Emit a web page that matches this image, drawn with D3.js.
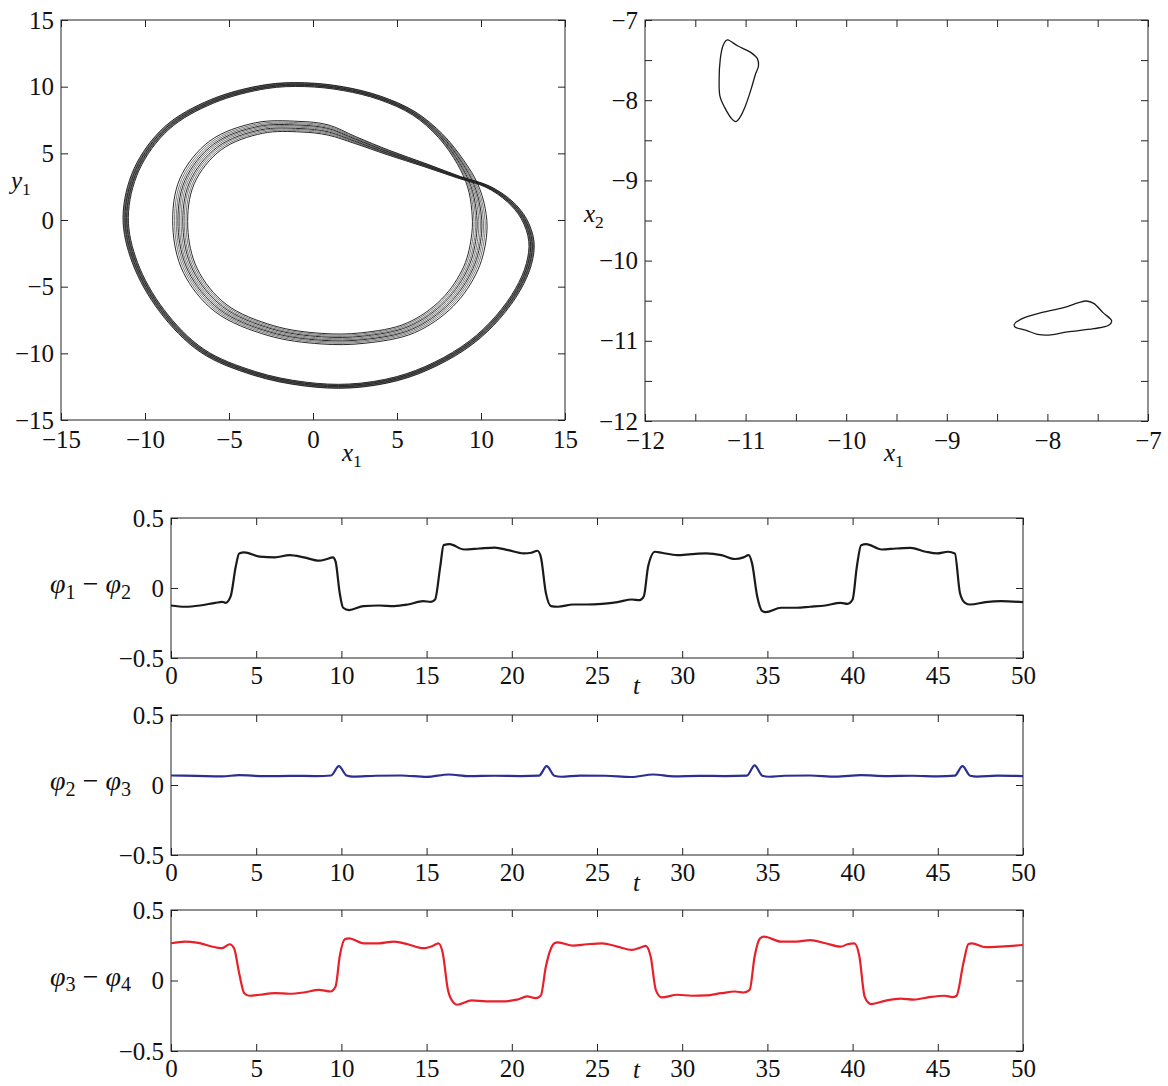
<!DOCTYPE html>
<html><head><meta charset="utf-8">
<script src="https://cdn.jsdelivr.net/npm/d3@7"></script>
<style>
body{margin:0;background:#fff}
text{font-family:"Liberation Serif","DejaVu Serif",serif;fill:#111}
</style></head>
<body><svg id="c" width="1168" height="1086"></svg>
<script>
// ---------------- DATA ----------------
// Attractor (x1,y1): one closed double loop; band = relative half-width of the strand bundle
const attractorX = [0.9,2.5,4.5,6.7,8.7,10.4,11.7,12.55,13.0,12.85,12.2,11.0,9.4,7.3,5.0,2.2,-0.5,-3.5,-6.6,-9.0,-10.6,-11.15,-10.5,-8.7,-6.0,-2.8,-0.5,1.8,4.0,6.0,7.6,8.8,9.5,9.85,9.9,9.4,8.0,5.8,3.0,0.5,-2.5,-5.5,-7.3,-7.9,-7.5,-5.8,-3.2,-0.8];
const attractorY = [6.75,6.0,5.05,4.1,3.2,2.5,1.4,0.1,-1.6,-3.3,-5.2,-7.3,-9.2,-10.8,-11.9,-12.45,-12.3,-11.5,-9.8,-6.8,-3.2,0.2,3.8,6.9,8.9,10.0,10.15,9.85,9.15,8.0,6.3,4.3,2.6,0.8,-1.0,-3.6,-6.2,-8.1,-8.85,-8.9,-8.3,-6.6,-3.8,-0.5,2.9,5.6,6.9,7.0];
const attractorBand = [0.05,0.035,0.025,0.018,0.012,0.012,0.013,0.013,0.013,0.013,0.013,0.013,0.013,0.013,0.013,0.013,0.013,0.013,0.013,0.013,0.013,0.013,0.013,0.013,0.013,0.013,0.013,0.013,0.013,0.014,0.018,0.025,0.035,0.045,0.05,0.05,0.05,0.05,0.05,0.05,0.05,0.05,0.05,0.05,0.05,0.05,0.05,0.05];
const attractorCenter = [1.0, -1.0];
const strandOffsets = [-1,-0.78,-0.55,-0.35,-0.12,0.1,0.3,0.52,0.75,1];

// Section (x1,x2): two small closed loops
const loopAX = [-11.177,-11.077,-10.946,-10.883,-10.872,-10.902,-10.946,-11.002,-11.058,-11.095,-11.133,-11.207,-11.255,-11.263,-11.252,-11.226,-11.196];
const loopAY = [-7.249,-7.324,-7.407,-7.482,-7.574,-7.677,-7.865,-8.072,-8.218,-8.268,-8.239,-8.093,-7.948,-7.740,-7.490,-7.324,-7.258];
const loopBX = [-8.329,-8.266,-8.061,-7.838,-7.689,-7.614,-7.540,-7.447,-7.361,-7.391,-7.540,-7.800,-7.987,-8.098,-8.210,-8.322];
const loopBY = [-10.795,-10.732,-10.649,-10.587,-10.524,-10.504,-10.533,-10.649,-10.753,-10.807,-10.849,-10.890,-10.928,-10.919,-10.870,-10.828];

// Phase differences vs t  ([t, value])
const phi12 = [[0,-0.125],[0.83,-0.134],[1.7,-0.125],[2.6,-0.106],[3.0,-0.099],[3.2,-0.106],[3.5,-0.06],[3.8,0.153],[4.0,0.247],[4.3,0.254],[5.2,0.224],[6.1,0.219],[6.95,0.235],[7.8,0.219],[8.7,0.195],[9.1,0.205],[9.5,0.219],[9.66,0.188],[9.9,-0.035],[10.1,-0.141],[10.45,-0.158],[11.3,-0.129],[12.2,-0.125],[13.1,-0.129],[13.9,-0.118],[14.8,-0.094],[15.25,-0.099],[15.5,-0.082],[15.8,0.153],[16.0,0.306],[16.35,0.313],[17.2,0.275],[18.1,0.282],[19.0,0.289],[19.8,0.27],[20.7,0.247],[21.15,0.252],[21.5,0.266],[21.7,0.224],[22.0,-0.035],[22.3,-0.129],[22.7,-0.134],[23.6,-0.118],[24.4,-0.118],[25.3,-0.113],[26.2,-0.101],[27.05,-0.082],[27.5,-0.087],[27.75,-0.059],[28.0,0.153],[28.4,0.259],[28.8,0.252],[29.7,0.235],[30.55,0.242],[31.4,0.247],[32.3,0.235],[33.1,0.207],[33.6,0.219],[33.9,0.235],[34.1,0.176],[34.4,-0.059],[34.7,-0.165],[34.9,-0.172],[35.8,-0.141],[36.7,-0.141],[37.5,-0.134],[38.4,-0.125],[39.3,-0.106],[39.7,-0.113],[40.0,-0.082],[40.25,0.153],[40.5,0.306],[40.8,0.313],[41.7,0.275],[42.55,0.282],[43.4,0.287],[44.3,0.259],[44.95,0.247],[45.6,0.259],[46.0,0.247],[46.3,-0.035],[46.6,-0.106],[46.9,-0.118],[47.8,-0.101],[48.7,-0.094],[50,-0.101]];
const phi23 = [[0,0.068],[1.5,0.065],[3,0.062],[4,0.07],[5.5,0.063],[7,0.065],[8.5,0.064],[9.4,0.068],[9.85,0.135],[10.3,0.068],[10.7,0.06],[12,0.066],[13.5,0.068],[15,0.058],[16.3,0.075],[17.5,0.063],[19,0.066],[20.5,0.064],[21.6,0.067],[22.05,0.135],[22.5,0.066],[22.9,0.059],[24,0.067],[25.5,0.066],[27,0.057],[28.3,0.075],[29.5,0.062],[31,0.065],[32.5,0.064],[33.8,0.067],[34.25,0.14],[34.7,0.066],[35.1,0.059],[36,0.066],[37.5,0.068],[39,0.06],[40.5,0.07],[42,0.064],[43.5,0.066],[45,0.062],[46.0,0.067],[46.45,0.135],[46.9,0.066],[47.3,0.06],[48.5,0.067],[50,0.064]];
const phi34 = [[0,0.264],[0.83,0.276],[1.5,0.269],[2.6,0.236],[3.0,0.229],[3.45,0.257],[3.7,0.229],[4.0,0.052],[4.3,-0.09],[4.6,-0.108],[5.2,-0.101],[6.1,-0.09],[6.95,-0.094],[7.8,-0.085],[8.7,-0.066],[9.35,-0.078],[9.66,-0.042],[9.9,0.17],[10.2,0.292],[10.45,0.299],[11.3,0.264],[12.2,0.264],[13.1,0.276],[13.9,0.257],[14.8,0.229],[15.35,0.245],[15.7,0.264],[15.95,0.193],[16.25,-0.066],[16.6,-0.16],[16.8,-0.172],[17.65,-0.141],[18.5,-0.148],[19.4,-0.148],[20.3,-0.136],[20.9,-0.113],[21.4,-0.125],[21.7,-0.108],[22.0,0.099],[22.5,0.264],[22.7,0.271],[23.6,0.247],[24.4,0.257],[25.3,0.264],[26.2,0.240],[27.05,0.217],[27.6,0.236],[27.85,0.245],[28.15,0.17],[28.45,-0.066],[28.8,-0.12],[29.7,-0.101],[30.55,-0.108],[31.4,-0.106],[32.3,-0.09],[33.1,-0.078],[33.6,-0.085],[33.96,-0.066],[34.25,0.17],[34.57,0.299],[34.8,0.311],[35.8,0.276],[36.7,0.276],[37.5,0.287],[38.4,0.264],[39.3,0.240],[39.7,0.257],[40.1,0.264],[40.4,0.17],[40.7,-0.113],[40.95,-0.16],[41.1,-0.167],[41.9,-0.144],[42.8,-0.129],[43.6,-0.136],[44.5,-0.118],[45.4,-0.108],[45.85,-0.118],[46.1,-0.108],[46.5,0.122],[46.8,0.259],[47.0,0.264],[47.8,0.236],[48.7,0.24],[50,0.252]];

const ticksTL = [-15,-10,-5,0,5,10,15];
const ticksTRmajor = [-12,-11,-10,-9,-8,-7];
const ticksTRminor = [-12,-11.5,-11,-10.5,-10,-9.5,-9,-8.5,-8,-7.5,-7];
const ticksT = [0,5,10,15,20,25,30,35,40,45,50];
const ticksPhi = [-0.5,0,0.5];

// ---------------- DRAW ----------------
const svg = d3.select('#c');
const FONT = '"Liberation Serif","DejaVu Serif",serif';

function frame(cfg){
  const x = d3.scaleLinear().domain(cfg.xd).range([cfg.l, cfg.r]);
  const y = d3.scaleLinear().domain(cfg.yd).range([cfg.b, cfg.t]);
  const g = svg.append('g');
  const tk = 7;
  const clean = s => { s.select('.domain').remove(); s.selectAll('line').attr('stroke','#222'); };
  g.append('g').attr('transform',`translate(0,${cfg.b})`).call(d3.axisBottom(x).tickValues(cfg.xt).tickSize(-tk).tickFormat('')).call(clean);
  g.append('g').attr('transform',`translate(0,${cfg.t})`).call(d3.axisTop(x).tickValues(cfg.xt).tickSize(-tk).tickFormat('')).call(clean);
  g.append('g').attr('transform',`translate(${cfg.l},0)`).call(d3.axisLeft(y).tickValues(cfg.yt).tickSize(-tk).tickFormat('')).call(clean);
  g.append('g').attr('transform',`translate(${cfg.r},0)`).call(d3.axisRight(y).tickValues(cfg.yt).tickSize(-tk).tickFormat('')).call(clean);
  const xl = g.append('g').attr('transform',`translate(0,${cfg.b})`).call(d3.axisBottom(x).tickValues(cfg.xlv).tickSize(0).tickPadding(cfg.xpad).tickFormat(cfg.xfmt));
  xl.select('.domain').remove();
  const yl = g.append('g').attr('transform',`translate(${cfg.l},0)`).call(d3.axisLeft(y).tickValues(cfg.ylv).tickSize(0).tickPadding(cfg.ypad).tickFormat(cfg.yfmt));
  yl.select('.domain').remove();
  [xl,yl].forEach(a=>{ a.attr('font-family',FONT).attr('font-size',cfg.fs); a.selectAll('text').attr('fill','#111').style('font-family',FONT).style('font-size',cfg.fs+'px'); });
  g.append('rect').attr('x',cfg.l).attr('y',cfg.t).attr('width',cfg.r-cfg.l).attr('height',cfg.b-cfg.t)
    .attr('fill','none').attr('stroke','#222').attr('stroke-width',1);
  return {x,y,g};
}

function subLabel(x, y, main, sub, size){
  const t = svg.append('text').attr('x',x).attr('y',y).attr('font-size',size).style('font-family',FONT);
  t.append('tspan').attr('font-style','italic').text(main);
  t.append('tspan').attr('font-size',size*0.7).attr('dy',size*0.22).text(sub);
  return t;
}
function phiLabel(xr, y, a, b, size){
  const t = svg.append('text').attr('x',xr).attr('y',y).attr('font-size',size).style('font-family',FONT).attr('text-anchor','end');
  t.append('tspan').attr('font-style','italic').text('φ');
  t.append('tspan').attr('font-size',size*0.72).attr('dy',size*0.2).text(a);
  t.append('tspan').attr('dy',-size*0.2).text(' − ');
  t.append('tspan').attr('font-style','italic').text('φ');
  t.append('tspan').attr('font-size',size*0.72).attr('dy',size*0.2).text(b);
}

const intFmt = d => d3.format('d')(d);

// Top-left: attractor
const tl = frame({l:61,r:565,t:20,b:420,xd:[-15,15],yd:[-15,15],xt:ticksTL,yt:ticksTL,xlv:ticksTL,ylv:ticksTL,xfmt:intFmt,yfmt:intFmt,fs:25,xpad:10,ypad:7});
const attractorPts = attractorX.map((v,i)=>({x:v,y:attractorY[i],w:attractorBand[i]}));
const loopLine = d3.line().curve(d3.curveCatmullRomClosed.alpha(0.5));
strandOffsets.forEach((o,k)=>{
  const pts = attractorPts.map(p=>{
    const s = 1 + o*p.w;
    return [tl.x(attractorCenter[0] + (p.x-attractorCenter[0])*s), tl.y(attractorCenter[1] + (p.y-attractorCenter[1])*s)];
  });
  tl.g.append('path').attr('d',loopLine(pts)).attr('fill','none')
    .attr('stroke', k%3===0 ? '#111' : '#333').attr('stroke-width', k%3===0 ? 0.9 : 0.65);
});
subLabel(342, 461, 'x', '1', 25);
subLabel(11, 189, 'y', '1', 25);

// Top-right: section
const tr = frame({l:645,r:1148,t:20,b:421,xd:[-12,-7],yd:[-12,-7],xt:ticksTRminor,yt:ticksTRminor,xlv:ticksTRmajor,ylv:ticksTRmajor,xfmt:intFmt,yfmt:intFmt,fs:25,xpad:10,ypad:7});
[[loopAX,loopAY],[loopBX,loopBY]].forEach(([xs,ys])=>{
  const pts = xs.map((v,i)=>[tr.x(v), tr.y(ys[i])]);
  tr.g.append('path').attr('d',loopLine(pts)).attr('fill','none').attr('stroke','#1a1a1a').attr('stroke-width',1.3);
});
subLabel(584, 222, 'x', '2', 25);
subLabel(884, 461, 'x', '1', 25);

// Bottom: time series
const phiFmt = d => d===0 ? '0' : d3.format('.1f')(d);
const series = [
  {data:phi12, t:518, b:658, color:'#1a1a1a', a:'1', bb:'2'},
  {data:phi23, t:715, b:855, color:'#2b2f8f', a:'2', bb:'3'},
  {data:phi34, t:910, b:1051, color:'#e8202a', a:'3', bb:'4'}
];
series.forEach(s=>{
  const p = frame({l:171,r:1023,t:s.t,b:s.b,xd:[0,50],yd:[-0.5,0.5],xt:ticksT,yt:ticksPhi,xlv:ticksT,ylv:ticksPhi,xfmt:intFmt,yfmt:phiFmt,fs:25,xpad:8,ypad:7});
  const line = d3.line().x(d=>p.x(d[0])).y(d=>p.y(d[1])).curve(d3.curveMonotoneX);
  p.g.append('path').attr('d',line(s.data)).attr('fill','none').attr('stroke',s.color).attr('stroke-width',2.2).attr('stroke-linejoin','round');
  phiLabel(131, (s.t+s.b)/2 + 5, s.a, s.bb, 28);
  svg.append('text').attr('x',633).attr('y',Math.min(s.b+36,1078)).attr('font-size',25).attr('font-style','italic').style('font-family',FONT).text('t');
});
</script></body></html>
